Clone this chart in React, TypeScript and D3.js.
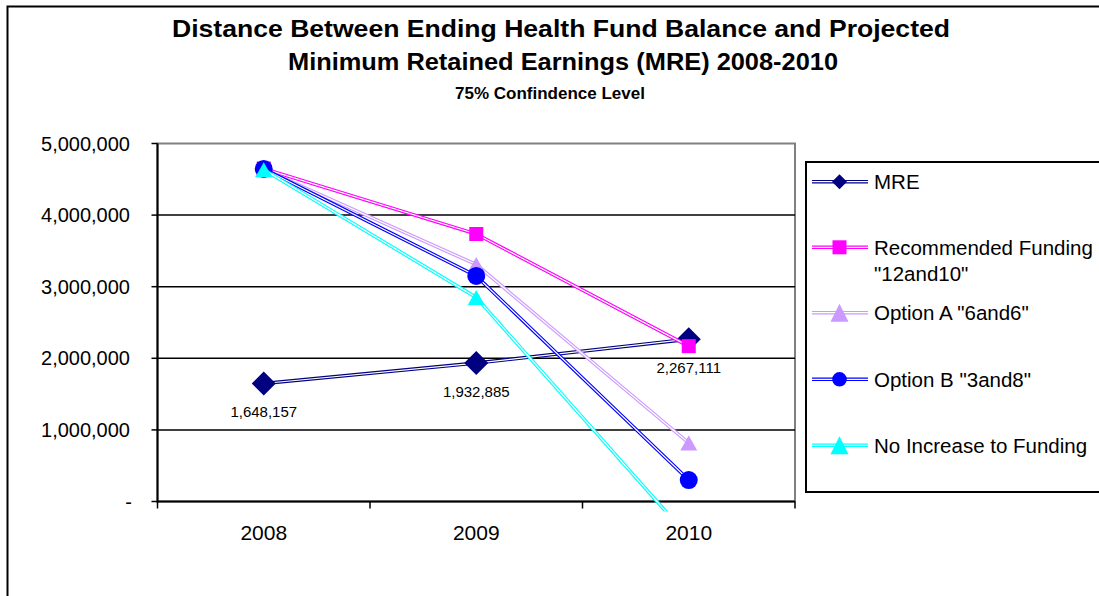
import React, { useRef, useEffect } from 'react';
import * as d3 from 'd3';

// chart data
const years = ['2008', '2009', '2010'];
const mre = [1648157, 1932885, 2267111];
const recommended = [4650000, 3736000, 2170000];
const optionA = [4640000, 3310000, 817000];
const optionB = [4645000, 3150000, 300000];
const noIncrease = [4635000, 2850000, -500000];
const seriesNames = ['MRE', 'Recommended Funding "12and10"', 'Option A "6and6"', 'Option B "3and8"', 'No Increase to Funding'];
const yTicks = [0, 1000000, 2000000, 3000000, 4000000, 5000000];
const titleLines = ['Distance Between Ending Health Fund Balance and Projected', 'Minimum Retained Earnings (MRE) 2008-2010'];
const subtitle = '75% Confindence Level';

const colors = ['#000080', '#FF00FF', '#CC99FF', '#0000FF', '#00FFFF'];
const shapes = ['diamond', 'square', 'triangle', 'circle', 'triangle'];

const markerPath = (shape: string, cx: number, cy: number, legend: boolean) => {
    if (shape === 'diamond') {
        const h = legend ? 7.5 : 12;
        return `M${cx},${cy - h}L${cx + h},${cy}L${cx},${cy + h}L${cx - h},${cy}Z`;
    }
    if (shape === 'square') {
        const h = 7;
        return `M${cx - h},${cy - h}h${2 * h}v${2 * h}h${-2 * h}Z`;
    }
    if (shape === 'triangle') {
        const w = legend ? 9 : 8.5, h = legend ? 9 : 7.5;
        return `M${cx},${cy - h}L${cx + w},${cy + h}L${cx - w},${cy + h}Z`;
    }
    const r = legend ? 7.3 : 9;
    return `M${cx - r},${cy}a${r},${r} 0 1,0 ${2 * r},0a${r},${r} 0 1,0 ${-2 * r},0Z`;
};

const App = () => {
    const svgRef = useRef<SVGSVGElement>(null);
    const width = 1099, height = 596;

    useEffect(() => {
        const svg = d3.select(svgRef.current);
        svg.selectAll('*').remove();

        const font = '"Liberation Sans", Arial, sans-serif';
        const left = 157.5, right = 795, top = 143.5, bottom = 501.5;

        const x = d3.scaleBand().domain(years).range([left, right]);
        const y = d3.scaleLinear().domain([0, 5000000]).range([bottom, top]);
        const cx = (d: string) => (x(d) as number) + x.bandwidth() / 2;

        // outer frame
        svg.append('rect')
            .attr('x', 7.5).attr('y', 6.5).attr('width', 1200).attr('height', 700)
            .attr('fill', 'white').attr('stroke', 'black').attr('stroke-width', 2);

        // titles (stretched wide like the original)
        const titleWidths = [778, 550];
        const titleCenters = [561, 563];
        titleLines.forEach((t, i) => {
            svg.append('text')
                .attr('x', titleCenters[i]).attr('y', 36.5 + i * 33)
                .attr('text-anchor', 'middle')
                .attr('textLength', titleWidths[i]).attr('lengthAdjust', 'spacingAndGlyphs')
                .style('font-family', font).style('font-weight', 'bold').style('font-size', '24px')
                .text(t);
        });
        svg.append('text')
            .attr('x', 550).attr('y', 99)
            .attr('text-anchor', 'middle')
            .style('font-family', font).style('font-weight', 'bold').style('font-size', '17px')
            .text(subtitle);

        // plot area border
        svg.append('rect')
            .attr('x', left).attr('y', top).attr('width', right - left).attr('height', bottom - top)
            .attr('fill', 'white').attr('stroke', '#808080').attr('stroke-width', 2);

        // gridlines
        svg.selectAll('.grid')
            .data(yTicks.filter(t => t > 0 && t < 5000000))
            .enter().append('line')
            .attr('x1', left).attr('x2', right)
            .attr('y1', d => y(d)).attr('y2', d => y(d))
            .attr('stroke', 'black').attr('stroke-width', 1.5);

        // y axis
        const yAxis = svg.append('g');
        yAxis.append('line')
            .attr('x1', left).attr('x2', left).attr('y1', top).attr('y2', bottom + 1)
            .attr('stroke', 'black').attr('stroke-width', 2);
        yAxis.selectAll('.ytick')
            .data(yTicks).enter().append('line')
            .attr('x1', left - 6).attr('x2', left)
            .attr('y1', d => y(d)).attr('y2', d => y(d))
            .attr('stroke', 'black').attr('stroke-width', 1.5);
        yAxis.selectAll('.ylabel')
            .data(yTicks).enter().append('text')
            .attr('x', d => (d === 0 ? 132 : 130)).attr('y', d => y(d) + 7)
            .attr('text-anchor', 'end')
            .style('font-family', font).style('font-size', '20px')
            .text(d => (d === 0 ? '-' : d3.format(',')(d)));

        // x axis
        const xAxis = svg.append('g');
        xAxis.append('line')
            .attr('x1', left).attr('x2', right).attr('y1', bottom).attr('y2', bottom)
            .attr('stroke', 'black').attr('stroke-width', 2);
        const xTicks = years.map(d => x(d) as number).concat([right]);
        xAxis.selectAll('.xtick')
            .data(xTicks).enter().append('line')
            .attr('x1', d => d).attr('x2', d => d)
            .attr('y1', bottom).attr('y2', bottom + 7)
            .attr('stroke', 'black').attr('stroke-width', 1.5);
        xAxis.selectAll('.xlabel')
            .data(years).enter().append('text')
            .attr('x', d => cx(d)).attr('y', 540)
            .attr('text-anchor', 'middle')
            .style('font-family', font).style('font-size', '21px')
            .text(d => d);

        // series
        svg.append('clipPath').attr('id', 'plotClip')
            .append('rect').attr('x', left).attr('y', top - 15).attr('width', right - left).attr('height', bottom - top + 25);

        const allSeries = [mre, recommended, optionA, optionB, noIncrease];
        const line = d3.line<number>().x((_, i) => cx(years[i])).y(d => y(d));
        const plot = svg.append('g').attr('clip-path', 'url(#plotClip)');

        allSeries.forEach((values, s) => {
            const g = plot.append('g');
            g.append('path').attr('d', line(values))
                .attr('fill', 'none').attr('stroke', colors[s]).attr('stroke-width', 3.5);
            g.append('path').attr('d', line(values))
                .attr('fill', 'none').attr('stroke', 'white').attr('stroke-width', 1.2);
            values.forEach((v, i) => {
                if (v < 0) return;
                g.append('path')
                    .attr('d', markerPath(shapes[s], cx(years[i]), y(v), false))
                    .attr('fill', colors[s]);
            });
        });

        // data labels for MRE
        svg.selectAll('.dlabel')
            .data(mre).enter().append('text')
            .attr('x', (_, i) => cx(years[i])).attr('y', d => y(d) + 34)
            .attr('text-anchor', 'middle')
            .style('font-family', font).style('font-size', '15px')
            .text(d => d3.format(',')(d));

        // legend
        svg.append('rect')
            .attr('x', 806).attr('y', 162).attr('width', 400).attr('height', 330)
            .attr('fill', 'white').attr('stroke', 'black').attr('stroke-width', 2);
        const legendY = [181.7, 247.3, 312.7, 379.3, 445.3];
        seriesNames.forEach((name, s) => {
            const ly = legendY[s];
            const g = svg.append('g');
            g.append('line').attr('x1', 812).attr('x2', 868).attr('y1', ly).attr('y2', ly)
                .attr('stroke', colors[s]).attr('stroke-width', 3.5);
            g.append('line').attr('x1', 812).attr('x2', 868).attr('y1', ly).attr('y2', ly)
                .attr('stroke', 'white').attr('stroke-width', 1.2);
            g.append('path').attr('d', markerPath(shapes[s], 839.5, ly, true)).attr('fill', colors[s]);
            const parts = s === 1 ? ['Recommended Funding', '"12and10"'] : [name];
            parts.forEach((p, k) => {
                g.append('text')
                    .attr('x', 874).attr('y', ly + 7.4 + k * 26.5)
                    .style('font-family', font).style('font-size', '20.5px')
                    .text(p);
            });
        });
    }, []);

    return (
        <svg ref={svgRef} width={width} height={height}
            style={{ position: 'absolute', left: 0, top: 0, background: 'white' }}></svg>
    );
};

export default App;
